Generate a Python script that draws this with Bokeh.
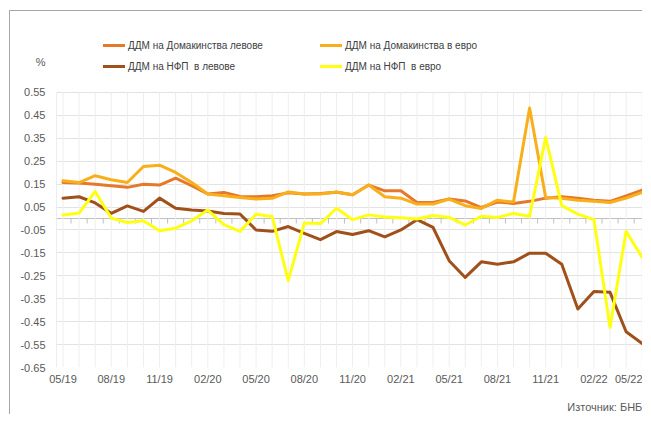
from bokeh.plotting import figure
from bokeh.models import (Range1d, FixedTicker, LinearAxis, Legend, LegendItem,
                          PrintfTickFormatter, Span)
from bokeh.embed import file_html
from bokeh.resources import INLINE

months = ["05/19", "06/19", "07/19", "08/19", "09/19", "10/19", "11/19", "12/19",
          "01/20", "02/20", "03/20", "04/20", "05/20", "06/20", "07/20", "08/20",
          "09/20", "10/20", "11/20", "12/20", "01/21", "02/21", "03/21", "04/21",
          "05/21", "06/21", "07/21", "08/21", "09/21", "10/21", "11/21", "12/21",
          "01/22", "02/22", "03/22", "04/22", "05/22"]

hh_bgn = [0.157, 0.155, 0.150, 0.143, 0.136, 0.150, 0.146, 0.176, 0.143, 0.107,
          0.114, 0.096, 0.095, 0.099, 0.112, 0.107, 0.109, 0.115, 0.104, 0.146,
          0.121, 0.121, 0.070, 0.070, 0.085, 0.077, 0.048, 0.072, 0.066, 0.075,
          0.089, 0.095, 0.089, 0.080, 0.075, 0.099, 0.124]

hh_eur = [0.165, 0.157, 0.187, 0.169, 0.157, 0.227, 0.233, 0.201, 0.157, 0.107,
          0.099, 0.092, 0.085, 0.088, 0.116, 0.107, 0.107, 0.116, 0.104, 0.146,
          0.095, 0.089, 0.063, 0.063, 0.085, 0.056, 0.044, 0.080, 0.072, 0.482,
          0.092, 0.089, 0.080, 0.075, 0.070, 0.089, 0.114]

nfc_bgn = [0.089, 0.095, 0.068, 0.023, 0.055, 0.031, 0.089, 0.045, 0.037, 0.033,
           0.022, 0.020, -0.050, -0.056, -0.035, -0.065, -0.092, -0.057, -0.070,
           -0.053, -0.080, -0.050, -0.005, -0.039, -0.184, -0.257, -0.189, -0.199,
           -0.189, -0.151, -0.151, -0.199, -0.395, -0.318, -0.322, -0.494, -0.545]

nfc_eur = [0.015, 0.024, 0.118, 0.002, -0.017, -0.010, -0.053, -0.042, -0.010,
           0.037, -0.027, -0.056, 0.019, 0.009, -0.271, -0.020, -0.022, 0.045,
           -0.005, 0.016, 0.007, 0.003, -0.002, 0.013, 0.005, -0.028, 0.010, 0.005,
           0.022, 0.010, 0.354, 0.056, 0.019, -0.005, -0.475, -0.056, -0.170]

series_names = ["ДДМ на Домакинства левове", "ДДМ на Домакинства в евро",
                "ДДМ на НФП  в левове", "ДДМ на НФП  в евро"]
series_colors = ["#E5782A", "#F9AF1A", "#A0501A", "#FFFF14"]

y_ticks = [-0.65, -0.55, -0.45, -0.35, -0.25, -0.15, -0.05,
           0.05, 0.15, 0.25, 0.35, 0.45, 0.55]

unit_text = "%"
unit_pos = 0.681            # where the unit sits on the value scale (above the top tick)
source_text = "Източник: БНБ"
source_pos = 33.7           # where the source note sits on the category scale

idx = list(range(len(months)))
label_idx = idx[::3]
boundaries = [i + 0.5 for i in idx[:-1]]

FONT = "Liberation Sans"
TXT = "#595959"
BORDER = "1px solid #A6A6A6"

p = figure(width=633, height=404, output_backend="svg", toolbar_location=None,
           title=None,
           x_range=Range1d(-0.404, 36.08), y_range=Range1d(-0.65, 0.8423),
           min_border_left=46, min_border_right=0, min_border_top=14,
           min_border_bottom=48)
p.margin = (10, 0, 0, 9)
p.styles = {"border-left": BORDER, "border-top": BORDER}
p.outline_line_color = None

# category labels
p.xaxis.ticker = FixedTicker(ticks=label_idx)
p.xaxis.major_label_overrides = {i: months[i] for i in label_idx}
p.xaxis.axis_line_color = None
p.xaxis.major_tick_line_color = None
p.xaxis.major_tick_out = 0
p.xaxis.minor_tick_line_color = None
p.xaxis.major_label_standoff = 5
p.xaxis.major_label_text_font = FONT
p.xaxis.major_label_text_font_size = "11px"
p.xaxis.major_label_text_color = TXT

# source note under the category labels
src_axis = LinearAxis(ticker=FixedTicker(ticks=[source_pos]),
                      major_label_overrides={source_pos: source_text},
                      axis_line_color=None, major_tick_line_color=None,
                      major_tick_out=0, major_tick_in=0,
                      minor_tick_line_color=None, major_label_standoff=13,
                      major_label_text_font=FONT, major_label_text_font_size="11px",
                      major_label_text_color=TXT)
p.add_layout(src_axis, "below")

# value axis (with the unit above the top tick)
p.yaxis.ticker = FixedTicker(ticks=y_ticks + [unit_pos])
p.yaxis.formatter = PrintfTickFormatter(format="%.2f")
p.yaxis.major_label_overrides = {unit_pos: unit_text}
p.yaxis.axis_line_color = None
p.yaxis.major_tick_line_color = None
p.yaxis.major_tick_out = 0
p.yaxis.minor_tick_line_color = None
p.yaxis.major_label_standoff = 11
p.yaxis.major_label_text_font = FONT
p.yaxis.major_label_text_font_size = "11px"
p.yaxis.major_label_text_color = TXT

p.ygrid.ticker = FixedTicker(ticks=y_ticks)
p.ygrid.grid_line_color = "#E3E3E3"
p.xgrid.visible = False

# faint vertical lines at each month, only inside the value scale
p.segment(x0=idx, x1=idx, y0=[y_ticks[0]] * len(idx), y1=[y_ticks[-1]] * len(idx),
          line_color="#EEEEEE", line_width=1)
p.segment(x0=[idx[0] - 0.404], x1=[idx[0] - 0.404], y0=[y_ticks[0]], y1=[y_ticks[-1]],
          line_color="#D5DCE8", line_width=1)

# zero line with tick marks between categories
p.add_layout(Span(location=0, dimension="width", line_color="#BFBFBF",
                  line_width=1, level="underlay"))
p.ray(x=boundaries, y=[0] * len(boundaries), length=5, angle=-90,
      angle_units="deg", length_units="screen", line_color="#BFBFBF", line_width=1)

renderers = []
for vals, col in zip([hh_bgn, hh_eur, nfc_bgn, nfc_eur], series_colors):
    renderers.append(p.line(idx, vals, line_width=3, color=col,
                            line_join="round", line_cap="round"))

def make_legend(items, loc):
    return Legend(items=items, location=loc, orientation="vertical",
                  border_line_color=None, background_fill_alpha=0,
                  padding=0, margin=0, spacing=3, label_height=18,
                  glyph_height=18, glyph_width=22, label_standoff=3,
                  label_text_font=FONT, label_text_font_size="10px",
                  label_text_color="#404040")

leg1 = make_legend([LegendItem(label=series_names[0], renderers=[renderers[0]]),
                    LegendItem(label=series_names[2], renderers=[renderers[2]])],
                   (47, 292))
leg2 = make_legend([LegendItem(label=series_names[1], renderers=[renderers[1]]),
                    LegendItem(label=series_names[3], renderers=[renderers[3]])],
                   (264, 292))
p.add_layout(leg1, "center")
p.add_layout(leg2, "center")

open("out.html", "w").write(file_html(p, INLINE))
